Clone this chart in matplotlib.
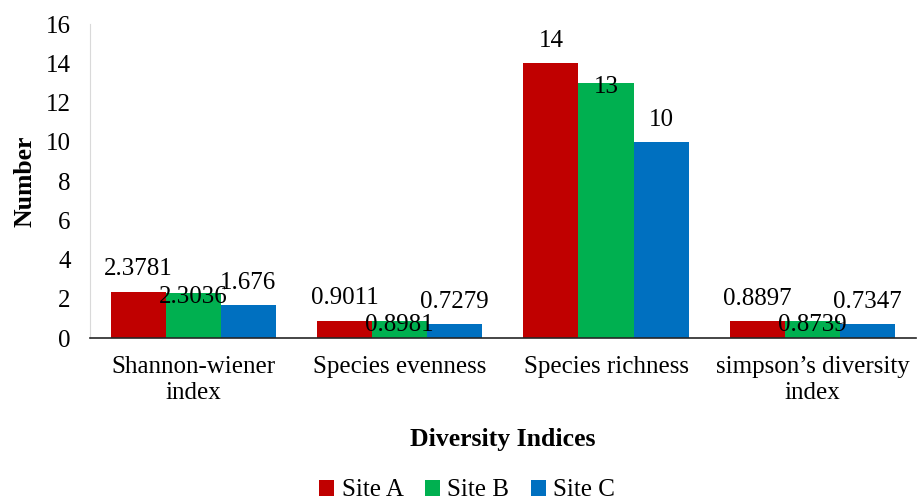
import numpy as np
import matplotlib.pyplot as plt

plt.rcParams['font.family'] = ['Liberation Serif', 'DejaVu Serif']

categories = ["Shannon-wiener\nindex", "Species evenness", "Species richness", "simpson\u2019s diversity\nindex"]
sites = ["Site A", "Site B", "Site C"]
site_a = [2.3781, 0.9011, 14, 0.8897]
site_b = [2.3036, 0.8981, 13, 0.8739]
site_c = [1.676, 0.7279, 10, 0.7347]
labels_a = ["2.3781", "0.9011", "14", "0.8897"]
labels_b = ["2.3036", "0.8981", "13", "0.8739"]
labels_c = ["1.676", "0.7279", "10", "0.7347"]
colors = ["#C00000", "#00B050", "#0070C0"]

fig = plt.figure(figsize=(9.23, 5.04), dpi=100)
ax = fig.add_axes([0.0975, 0.329, 0.8945, 0.623])

x = np.arange(len(categories))
w = 0.267
series = [site_a, site_b, site_c]
lbls = [labels_a, labels_b, labels_c]
offs = [16, -3, 16]
for i in range(3):
    xs = x + (i - 1) * w
    ax.bar(xs, series[i], width=w, color=colors[i], label=sites[i])
    for xx, v, t in zip(xs, series[i], lbls[i]):
        ax.annotate(t, (xx, v), xytext=(0, offs[i]), textcoords='offset points',
                    ha='center', va='center', fontsize=18)

ax.set_xlim(-0.5, 3.5)
ax.set_ylim(0, 16)
ax.set_yticks(range(0, 17, 2))
ax.set_xticks(x)
ax.set_xticklabels(categories, fontsize=18, linespacing=1.2)
ax.tick_params(axis='y', labelsize=18, length=0, pad=14)
ax.tick_params(axis='x', length=0, pad=13)
for s in ['top', 'right']:
    ax.spines[s].set_visible(False)
ax.spines['left'].set_color('#D9D9D9')
ax.spines['bottom'].set_color('#262626')
ax.spines['bottom'].set_linewidth(1.2)

fig.text(0.027, 0.64, "Number", fontsize=18.5, fontweight='bold', rotation=90, ha='center', va='center')
fig.text(0.545, 0.128, "Diversity Indices", fontsize=18.5, fontweight='bold', ha='center', va='center')

leg = fig.legend(loc='center', bbox_to_anchor=(0.506, 0.027), ncol=3, frameon=False,
                 fontsize=18, handlelength=0.6, handleheight=0.6, handletextpad=0.3,
                 columnspacing=0.85, borderpad=0.1)

plt.savefig("out.png", dpi=100)
